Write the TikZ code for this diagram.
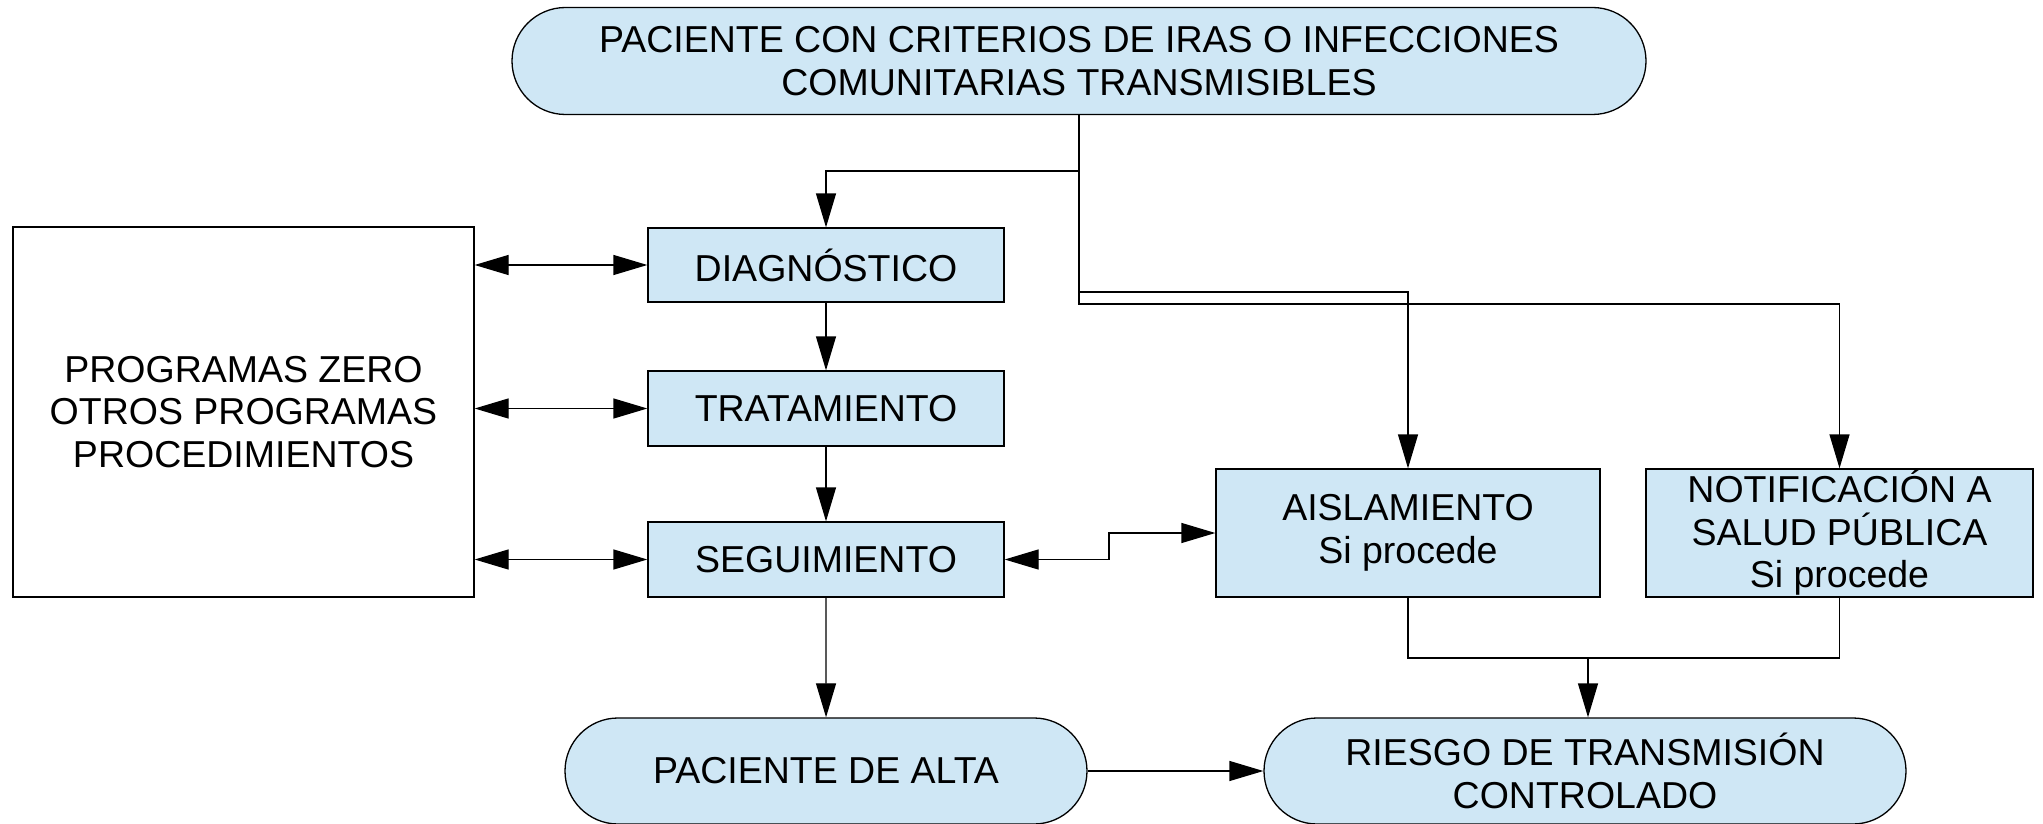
\documentclass[tikz,border=0pt]{standalone}
\usepackage{fontspec}
\setmainfont{Liberation Sans}
\usetikzlibrary{shapes.misc,arrows.meta}
\definecolor{boxfill}{HTML}{CFE7F5}
\begin{document}
\begin{tikzpicture}[x=1pt,y=-1pt,
  base/.style={draw=black,line width=1.3pt,inner sep=0pt,align=center,
    font=\fontsize{37.5}{42.5}\selectfont},
  bluebox/.style={base,rectangle,fill=boxfill},
  term/.style={base,rounded rectangle,fill=boxfill},
  conn/.style={line width=1.3pt,draw=black},
  arr/.style={conn,-{Triangle[length=34pt,width=20pt]}},
  darr/.style={conn,{Triangle[length=34pt,width=20pt]}-{Triangle[length=34pt,width=20pt]}}]
\useasboundingbox (0,0) rectangle (2043,824);
\node[term,minimum width=1134pt,minimum height=107pt] (top) at (1079,61)
  {PACIENTE CON CRITERIOS DE IRAS O INFECCIONES\\COMUNITARIAS TRANSMISIBLES};
\node[base,rectangle,fill=white,minimum width=461pt,minimum height=370pt] (prog) at (243.5,412)
  {PROGRAMAS ZERO\\OTROS PROGRAMAS\\PROCEDIMIENTOS};
\node[bluebox,minimum width=356pt,minimum height=74pt] (diag) at (826,265) {DIAGNÓSTICO};
\node[bluebox,minimum width=356pt,minimum height=75pt] (trat) at (826,408.5) {TRATAMIENTO};
\node[bluebox,minimum width=356pt,minimum height=75pt] (seg) at (826,559.5) {SEGUIMIENTO};
\node[bluebox,minimum width=384pt,minimum height=128pt] (aisl) at (1408,533) {AISLAMIENTO\\Si procede};
\node[bluebox,minimum width=387pt,minimum height=128pt] (notif) at (1839.5,533)
  {NOTIFICACIÓN A\\SALUD PÚBLICA\\Si procede};
\node[term,minimum width=522pt,minimum height=106pt] (alta) at (826,771) {PACIENTE DE ALTA};
\node[term,minimum width=642pt,minimum height=106pt] (riesgo) at (1585,771)
  {RIESGO DE TRANSMISIÓN\\CONTROLADO};
\coordinate (j1) at (1079,171);
\coordinate (j2) at (1079,292);
\coordinate (j3) at (1079,304);
\coordinate (j4) at (1109,534);
\coordinate (j5) at (1588,658);
\draw[arr] (top.south) -- (j1) -| (diag.north);
\draw[arr] (top.south) -- (j2) -| (aisl.north);
\draw[arr] (top.south) -- (j3) -| (notif.north);
\draw[arr] (diag) -- (trat);
\draw[arr] (trat) -- (seg);
\draw[arr] (seg) -- (alta);
\draw[darr] (prog.east |- diag) -- (diag.west);
\draw[darr] (prog.east |- trat) -- (trat.west);
\draw[darr] (prog.east |- seg) -- (seg.west);
\draw[darr] (seg.east) -| (j4) |- (aisl.west);
\draw[conn] (aisl.south) |- (j5) -| (notif.south);
\draw[arr] (j5) -- (j5 |- riesgo.north);
\draw[arr] (alta.east) -- (riesgo.west);
\end{tikzpicture}
\end{document}
